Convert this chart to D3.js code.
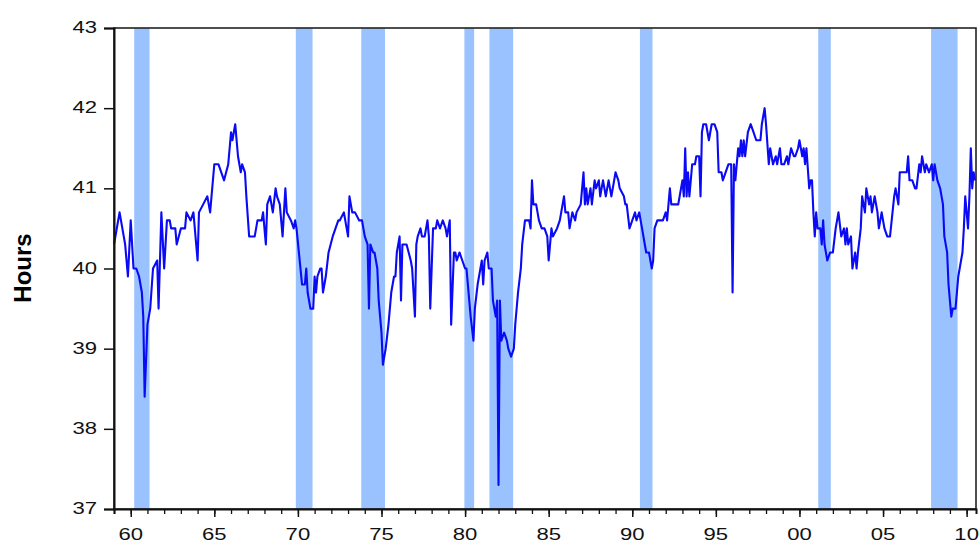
<!DOCTYPE html>
<html><head><meta charset="utf-8">
<script src="https://cdn.jsdelivr.net/npm/d3@7"></script>
<style>body{margin:0;background:#fff} svg{display:block}</style>
</head><body><svg id="c" width="980" height="542"></svg>
<script>
const obsMonth = [
"1959-01","1959-05","1959-08","1959-09","1959-11","1960-01","1960-03","1960-05","1960-07","1960-09","1960-10","1960-11",
"1961-01","1961-03","1961-05","1961-08","1961-09","1961-11","1962-01","1962-03","1962-05","1962-06","1962-09","1962-10",
"1963-01","1963-04","1963-05","1963-08","1963-10","1964-01","1964-02","1964-05","1964-08","1964-10","1965-01","1965-04",
"1965-08","1965-11","1966-01","1966-02","1966-04","1966-06","1966-08","1966-09","1966-11","1966-12","1967-02","1967-06",
"1967-08","1967-11","1967-12","1968-02","1968-03","1968-05","1968-07","1968-09","1968-10","1968-12","1969-02","1969-04",
"1969-05","1969-08","1969-10","1969-11","1969-12","1970-04","1970-06","1970-07","1970-08","1970-10","1970-12","1971-01",
"1971-02","1971-03","1971-05","1971-06","1971-07","1971-09","1971-11","1972-02","1972-04","1972-06","1972-07","1972-10",
"1972-11","1973-01","1973-02","1973-04","1973-06","1973-09","1973-11","1974-01","1974-03","1974-04","1974-05","1974-07",
"1974-08","1974-10","1974-11","1975-01","1975-02","1975-04","1975-06","1975-08","1975-10","1975-11","1975-12","1976-02",
"1976-03","1976-04","1976-07","1976-10","1976-11","1977-01","1977-02","1977-03","1977-05","1977-06","1977-08","1977-10",
"1977-11","1977-12","1978-02","1978-04","1978-05","1978-07","1978-09","1978-11","1978-12","1979-02","1979-03","1979-05",
"1979-06","1979-07","1979-09","1979-11","1980-01","1980-02","1980-05","1980-07","1980-08","1980-10","1981-01","1981-02",
"1981-03","1981-05","1981-06","1981-08","1981-09","1981-11","1981-12","1982-01","1982-02","1982-03","1982-05","1982-07",
"1982-08","1982-10","1982-12","1983-01","1983-03","1983-05","1983-06","1983-08","1983-09","1983-11","1983-12","1984-01",
"1984-02","1984-04","1984-06","1984-08","1984-10","1984-12","1985-01","1985-03","1985-04","1985-07","1985-09","1985-10",
"1985-12","1986-01","1986-03","1986-04","1986-06","1986-08","1986-09","1986-12","1987-02","1987-03","1987-04","1987-05",
"1987-07","1987-08","1987-10","1987-11","1988-01","1988-02","1988-04","1988-06","1988-08","1988-10","1988-12","1989-01",
"1989-03","1989-04","1989-07","1989-08","1989-09","1989-11","1990-01","1990-03","1990-04","1990-06","1990-08","1990-10",
"1990-11","1991-01","1991-03","1991-04","1991-05","1991-07","1991-09","1991-11","1992-01","1992-02","1992-04","1992-05",
"1992-08","1992-10","1992-11","1993-01","1993-02","1993-03","1993-04","1993-05","1993-06","1993-08","1993-10","1993-11",
"1994-01","1994-02","1994-03","1994-04","1994-06","1994-07","1994-08","1994-10","1994-12","1995-02","1995-03","1995-05",
"1995-06","1995-08","1995-10","1995-11","1995-12","1996-01","1996-02","1996-03","1996-04","1996-05","1996-06","1996-07",
"1996-08","1996-09","1996-10","1996-12","1997-02","1997-04","1997-06","1997-08","1997-09","1997-10","1997-12","1998-01",
"1998-03","1998-04","1998-05","1998-06","1998-08","1998-09","1998-11","1998-12","1999-02","1999-04","1999-05","1999-07",
"1999-09","1999-10","1999-12","2000-01","2000-03","2000-04","2000-05","2000-06","2000-08","2000-09","2000-10","2000-11",
"2000-12","2001-01","2001-02","2001-04","2001-05","2001-06","2001-07","2001-09","2001-11","2002-01","2002-03","2002-05",
"2002-07","2002-09","2002-10","2002-11","2002-12","2003-02","2003-03","2003-05","2003-06","2003-07","2003-09","2003-10",
"2003-12","2004-01","2004-03","2004-04","2004-05","2004-07","2004-09","2004-10","2004-12","2005-02","2005-04","2005-06",
"2005-09","2005-10","2005-12","2006-01","2006-04","2006-06","2006-07","2006-08","2006-10","2006-12","2007-01","2007-03",
"2007-04","2007-05","2007-07","2007-08","2007-10","2007-12","2008-01","2008-02","2008-04","2008-06","2008-08","2008-09",
"2008-11","2008-12","2009-01","2009-02","2009-03","2009-05","2009-06","2009-07","2009-08","2009-10","2009-11","2009-12",
"2010-02","2010-03","2010-04","2010-05","2010-06","2010-07"
];
const obsHours = [
40.3,40.7,40.4,40.3,39.9,40.6,40.0,40.0,39.9,39.7,39.4,38.4,
39.3,39.5,40.0,40.1,39.5,40.7,40.0,40.6,40.6,40.5,40.5,40.3,
40.5,40.5,40.7,40.6,40.7,40.1,40.7,40.8,40.9,40.7,41.3,41.3,
41.1,41.3,41.7,41.6,41.8,41.4,41.2,41.3,41.2,40.9,40.4,40.4,
40.6,40.6,40.7,40.3,40.8,40.9,40.7,41.0,40.9,40.8,40.4,41.0,
40.7,40.6,40.5,40.6,40.5,39.8,39.8,40.0,39.7,39.5,39.5,39.9,
39.7,39.9,40.0,40.0,39.7,39.9,40.2,40.4,40.5,40.6,40.6,40.7,
40.6,40.4,40.9,40.7,40.7,40.6,40.6,40.4,40.3,39.5,40.3,40.2,
40.2,40.0,39.6,39.2,38.8,39.0,39.3,39.7,39.9,39.9,40.2,40.4,
39.6,40.3,40.3,40.1,40.0,39.4,40.3,40.4,40.5,40.4,40.4,40.6,
40.4,39.5,40.5,40.5,40.6,40.5,40.6,40.5,40.4,40.6,39.3,40.2,
40.2,40.1,40.2,40.1,40.0,40.0,39.4,39.1,39.5,39.8,40.1,39.8,
40.1,40.2,40.0,40.0,39.6,39.4,39.6,37.3,39.6,39.1,39.2,39.1,
39.0,38.9,39.0,39.3,39.7,40.0,40.3,40.6,40.6,40.6,40.5,41.1,
40.8,40.8,40.6,40.5,40.5,40.4,40.1,40.5,40.4,40.5,40.6,40.7,
40.9,40.7,40.7,40.5,40.7,40.6,40.7,40.8,41.2,40.8,41.0,40.8,
41.0,40.8,41.1,41.0,41.1,40.9,41.1,40.9,41.1,40.9,41.1,41.2,
41.1,41.0,40.9,40.8,40.8,40.5,40.6,40.7,40.6,40.7,40.5,40.3,
40.2,40.2,40.0,40.1,40.5,40.6,40.6,40.6,40.7,40.6,41.0,40.8,
40.8,40.8,40.9,41.1,40.9,41.5,40.9,41.2,40.9,41.3,41.3,41.4,
41.4,40.9,41.7,41.8,41.8,41.7,41.6,41.8,41.8,41.7,41.2,41.2,
41.1,41.2,41.3,41.3,41.3,39.7,41.3,41.1,41.3,41.5,41.4,41.6,
41.4,41.6,41.4,41.7,41.8,41.7,41.6,41.6,41.6,41.8,42.0,41.8,
41.3,41.5,41.4,41.3,41.4,41.3,41.5,41.3,41.3,41.4,41.3,41.5,
41.4,41.4,41.5,41.6,41.4,41.5,41.3,41.5,41.0,41.1,41.1,40.7,
40.4,40.7,40.5,40.5,40.3,40.6,40.3,40.1,40.2,40.2,40.5,40.7,
40.4,40.5,40.3,40.5,40.3,40.4,40.0,40.2,40.0,40.2,40.5,40.9,
40.7,41.0,40.8,40.9,40.7,40.9,40.7,40.5,40.7,40.5,40.4,40.4,
40.9,41.0,40.8,41.2,41.2,41.2,41.4,41.1,41.1,41.0,41.0,41.3,
41.2,41.4,41.2,41.3,41.2,41.3,41.1,41.3,41.1,41.0,40.8,40.4,
40.2,39.8,39.6,39.4,39.5,39.5,39.7,39.9,40.0,40.2,40.5,40.9,
40.5,40.9,41.5,41.0,41.2,41.1
];

// NBER recessions (shaded)
const recessionStart = ["1960-04","1969-12","1973-11","1980-01","1981-07","1990-07","2001-03","2007-12"];
const recessionEnd   = ["1961-02","1970-11","1975-03","1980-07","1982-11","1991-03","2001-11","2009-06"];

const yTickValues = [37, 38, 39, 40, 41, 42, 43];
const xMajorYears = [1960, 1965, 1970, 1975, 1980, 1985, 1990, 1995, 2000, 2005, 2010];
const xMajorLabels = ["60", "65", "70", "75", "80", "85", "90", "95", "00", "05", "10"];
const xMinorYears = d3.range(1959, 2011);
const xDomain = [1959, 2010.56];
const yDomain = [37, 43];
const yTitle = "Hours";

const toYear = s => +s.slice(0, 4) + (+s.slice(5, 7) - 1) / 12;
const data = obsMonth.map((m, i) => ({t: toYear(m), v: obsHours[i]}));

const L = 114, R = 976, T = 28, B = 509;
const x = d3.scaleLinear().domain(xDomain).range([L, R]);
const y = d3.scaleLinear().domain(yDomain).range([B, T]);

const svg = d3.select("#c");
const font = "'Liberation Sans', Arial, sans-serif";
const sx = 1.3;

// recession bands
svg.append("g").selectAll("rect").data(recessionStart).join("rect")
  .attr("x", (d) => x(toYear(d) - 1/24))
  .attr("width", (d, i) => x(toYear(recessionEnd[i]) + 1/24) - x(toYear(d) - 1/24))
  .attr("y", T).attr("height", B - T)
  .attr("fill", "#99c2ff");

// line
svg.append("path").datum(data)
  .attr("d", d3.line().x(d => x(d.t)).y(d => y(d.v)))
  .attr("fill", "none").attr("stroke", "#0a0af5").attr("stroke-width", 2.1)
  .attr("stroke-linejoin", "round");

// frame
svg.append("rect").attr("x", L).attr("y", T).attr("width", R - L).attr("height", B - T)
  .attr("fill", "none").attr("stroke", "#222").attr("stroke-width", 1.6);

// left axis
const gy = svg.append("g").attr("transform", `translate(${L},0)`)
  .call(d3.axisLeft(y).tickValues(yTickValues).tickSize(10).tickFormat(""));
gy.select(".domain").attr("stroke", "#111").attr("stroke-width", 2);
gy.selectAll(".tick line").attr("stroke", "#111").attr("stroke-width", 1.5);
svg.append("g").selectAll("text").data(yTickValues).join("text")
  .attr("transform", d => `translate(97,${y(d) + 5}) scale(${sx},1)`)
  .attr("text-anchor", "end").attr("font-family", font).attr("font-size", 17)
  .attr("fill", "#111").text(d => d);

// bottom axis
const gxm = svg.append("g").attr("transform", `translate(0,${B})`)
  .call(d3.axisBottom(x).tickValues(xMinorYears).tickSize(5).tickFormat(""));
gxm.select(".domain").attr("stroke", "#111").attr("stroke-width", 2);
gxm.selectAll(".tick line").attr("stroke", "#111").attr("stroke-width", 1.3);
const gxM = svg.append("g").attr("transform", `translate(0,${B})`)
  .call(d3.axisBottom(x).tickValues(xMajorYears).tickSize(8).tickFormat(""));
gxM.select(".domain").remove();
gxM.selectAll(".tick line").attr("stroke", "#111").attr("stroke-width", 1.5);
svg.append("g").selectAll("text").data(xMajorYears).join("text")
  .attr("transform", d => `translate(${x(d)},540) scale(${sx},1)`)
  .attr("text-anchor", "middle").attr("font-family", font).attr("font-size", 17)
  .attr("fill", "#111").text((d, i) => xMajorLabels[i]);

// y title
svg.append("text").attr("transform", "translate(31,268) rotate(-90)")
  .attr("text-anchor", "middle").attr("font-family", font).attr("font-size", 24)
  .attr("font-weight", "bold").attr("fill", "#000").text(yTitle);
</script></body></html>
